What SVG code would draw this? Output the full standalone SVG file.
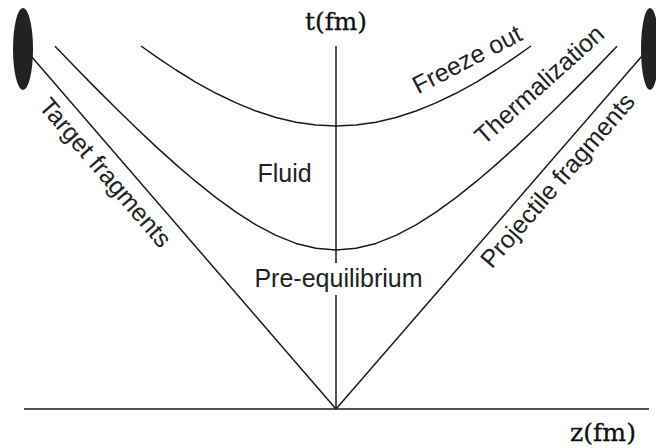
<svg xmlns="http://www.w3.org/2000/svg" width="656" height="448" viewBox="0 0 656 448">
<style>
.ln{fill:none;stroke:#1a1a1a;stroke-width:1.5;stroke-linejoin:round;stroke-linecap:butt}
.sans{font-family:"Liberation Sans",Arial,sans-serif;fill:#222;font-size:25px}
.serif{font-family:"DejaVu Serif","Liberation Serif",serif;fill:#111;font-size:25px;stroke:#111;stroke-width:0.3}
.nuc{fill:#222}
</style>
<rect width="656" height="448" fill="#fff"/>
<g id="connectors">
<line class="ln" x1="24" y1="409" x2="649" y2="409"/>
<line class="ln" x1="336" y1="46" x2="336" y2="263"/>
<line class="ln" x1="336" y1="295" x2="336" y2="409"/>
<line class="ln" x1="31" y1="56" x2="336" y2="409"/>
<line class="ln" x1="642" y1="56" x2="336" y2="409"/>
<polyline id="thermalization-curve" class="ln" points="55,46.3 76,68.1 96,88.4 116,108.3 136,127.7 156,146.6 176,164.6 196,181.7 216,197.7 236,212.2 256,224.9 276,235.4 296,243.4 316,248.3 336,250 356,248.3 376,243.4 396,235.4 416,224.9 436,212.2 456,197.7 476,181.7 496,164.6 516,146.6 536,127.7 556,108.3 576,88.4 596,68.1 617,46.3"/>
<polyline id="freezeout-curve" class="ln" points="141,46 156,56.7 176,70 196,82.3 216,93.3 236,102.9 256,111 276,117.5 296,122.2 316,125 336,126 356,125 376,122.2 396,117.5 416,111 436,102.9 456,93.3 476,82.3 496,70 516,56.7 531,46"/>
</g>
<g id="target">
<ellipse class="nuc" cx="23" cy="49" rx="10" ry="41"/>
</g>
<g id="projectile">
<ellipse class="nuc" cx="650" cy="49" rx="9" ry="41"/>
</g>
<g id="t-axis-label"><text class="serif" x="305" y="29.5" textLength="62" lengthAdjust="spacingAndGlyphs">t(fm)</text></g>
<g id="z-axis-label"><text class="serif" x="570" y="441" textLength="66" lengthAdjust="spacingAndGlyphs">z(fm)</text></g>
<g id="fluid"><text class="sans" x="284.5" y="182" text-anchor="middle">Fluid</text></g>
<g id="pre-equilibrium"><text class="sans" x="338.5" y="287" text-anchor="middle">Pre-equilibrium</text></g>
<g id="target-fragments"><text class="sans" text-anchor="middle" transform="translate(99,178) rotate(49.3)">Target fragments</text></g>
<g id="projectile-fragments"><text class="sans" text-anchor="middle" transform="translate(564,186) rotate(-49.2)">Projectile fragments</text></g>
<g id="thermalization"><text class="sans" text-anchor="middle" transform="translate(545,91) rotate(-42)">Thermalization</text></g>
<g id="freeze-out"><text class="sans" text-anchor="middle" transform="translate(471,67) rotate(-27.5)">Freeze out</text></g>
</svg>
